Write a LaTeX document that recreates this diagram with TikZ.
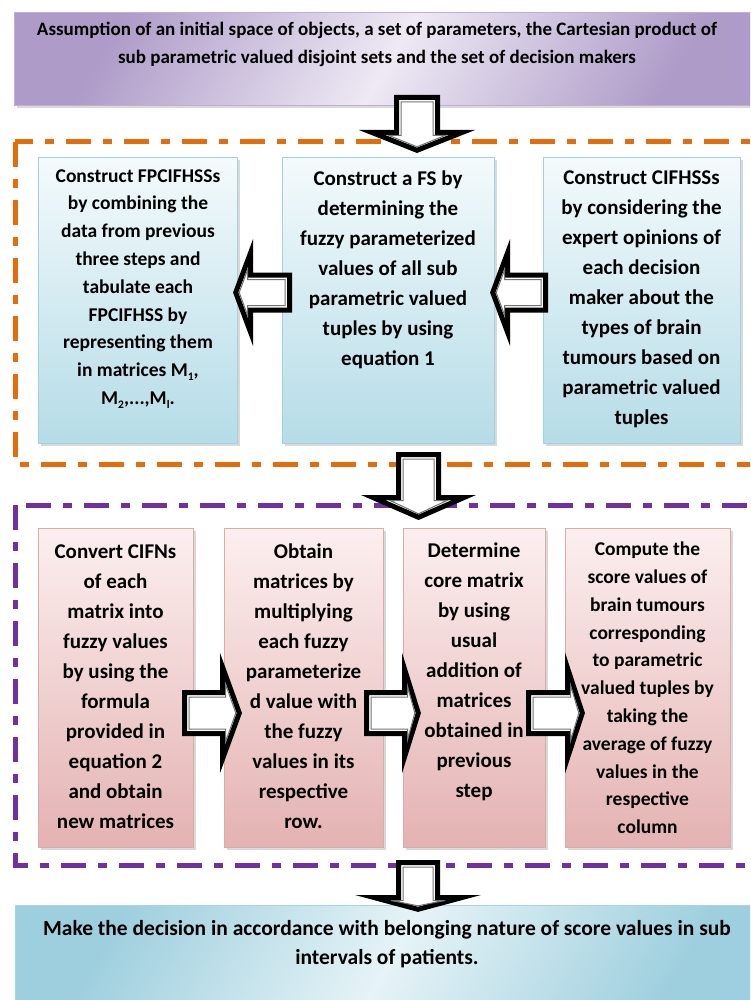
\documentclass[tikz,border=0pt]{standalone}
\usepackage{fontspec}
\setmainfont{Carlito}
\usetikzlibrary{calc,shadows}

\definecolor{blueTop}{HTML}{F4FAFC}
\definecolor{blueBot}{HTML}{B5DCE7}
\definecolor{blueEdge}{HTML}{A3D2DE}
\definecolor{pinkTop}{HTML}{FCEFEF}
\definecolor{pinkBot}{HTML}{E4B2B2}
\definecolor{pinkEdge}{HTML}{DDAAAA}
\definecolor{lilacDark}{HTML}{AE9BC8}
\definecolor{lilacLight}{HTML}{EEE9F4}
\definecolor{skyDark}{HTML}{9ECFDE}
\definecolor{skyLight}{HTML}{E6F3F7}
\definecolor{frameOrange}{HTML}{E46C0A}
\definecolor{framePurple}{HTML}{7030A0}

\newcommand\msub[1]{\raisebox{-0.22em}{\fontsize{11.5}{11.5}\selectfont #1}}

% corner points of a block arrow from #1 to #2 (head length #3, half widths #4 and #5); #6=1 gives the inner outline
\newcommand\fatpts[6]{%
  \pgfmathsetmacro\fad{4.5*#6}%
  \pgfmathsetmacro\fas{#4-4.5*#6}%
  \pgfmathsetmacro\faw{#5-17*#6}%
  \pgfmathsetmacro\fak{#3-3*#6}%
  \pgfmathsetmacro\fap{3.5*#6}%
  \coordinate (fat) at ($(#1)!\fad pt!(#2)$);
  \coordinate (fah) at ($(#2)!\fak pt!(#1)$);
  \coordinate (fa1) at ($(fat)!\fas pt!90:(#2)$);
  \coordinate (fa2) at ($(fah)!\fas pt!90:(#2)$);
  \coordinate (fa3) at ($(fah)!\faw pt!90:(#2)$);
  \coordinate (fa4) at ($(#2)!\fap pt!(#1)$);
  \coordinate (fa5) at ($(fah)!\faw pt!-90:(#2)$);
  \coordinate (fa6) at ($(fah)!\fas pt!-90:(#2)$);
  \coordinate (fa7) at ($(fat)!\fas pt!-90:(#2)$);
}
\newcommand\fatarrow[5]{%
  \fatpts{#1}{#2}{#3}{#4}{#5}{0}
  \filldraw[blockarrow] (fa1) -- (fa2) -- (fa3) -- (fa4) -- (fa5) -- (fa6) -- (fa7) -- cycle;
  \fatpts{#1}{#2}{#3}{#4}{#5}{1}
  \draw[blockinner] (fa1) -- (fa2) -- (fa3) -- (fa4) -- (fa5) -- (fa6) -- (fa7) -- cycle;
}

\begin{document}
\begin{tikzpicture}[
  x=1pt, y=-1pt,
  shadowed/.style={drop shadow={shadow xshift=2pt, shadow yshift=-2.5pt, opacity=0.3}},
  box/.style={shadowed, anchor=north west, inner sep=0pt, line width=1pt},
  topbox/.style={box, draw=lilacDark!80, left color=lilacDark, right color=lilacDark, middle color=lilacLight, shading angle=60},
  endbox/.style={box, draw=skyDark!90, left color=skyDark, right color=skyDark, middle color=skyLight, shading angle=60},
  bluebox/.style={box, draw=blueEdge, top color=blueTop, bottom color=blueBot},
  pinkbox/.style={box, draw=pinkEdge, top color=pinkTop, bottom color=pinkBot},
  frame/.style={line width=5pt, dash pattern=on 25pt off 12pt on 9pt off 12pt},
  txt/.style={align=center, inner sep=0pt, font=\bfseries\fontsize{21}{30}\selectfont},
  txtsmall/.style={txt, font=\bfseries\fontsize{19.5}{27.8}\selectfont},
  txtwide/.style={txt, font=\bfseries\fontsize{19}{28}\selectfont},
  blockarrow/.style={fill=white, draw=black, line width=5pt, line join=miter},
  blockinner/.style={draw=black!55, line width=1pt},
]
  \useasboundingbox (0,0) rectangle (750,1000);
  \clip (0,0) rectangle (750,1000);

  \draw[frame, frameOrange] (15,142) rectangle (775,464);
  \draw[frame, framePurple] (15,505) rectangle (775,865);

  \node[topbox, minimum width=751, minimum height=93] (start) at (14,12) {};

  \node[bluebox, minimum width=199, minimum height=286] (fpc) at (38,157) {};
  \node[bluebox, minimum width=212, minimum height=286] (fsb) at (282,157) {};
  \node[bluebox, minimum width=197, minimum height=286] (cif) at (543,157) {};

  \node[pinkbox, minimum width=155, minimum height=319] (cnv) at (38,528) {};
  \node[pinkbox, minimum width=159, minimum height=319] (obt) at (224,528) {};
  \node[pinkbox, minimum width=142, minimum height=319] (det) at (403,528) {};
  \node[pinkbox, minimum width=165, minimum height=319] (cmp) at (565,528) {};

  \node[endbox, minimum width=755, minimum height=100] (dec) at (15,905) {};

  \node[txtwide] (starttxt) at (377,44) {Assumption of an initial space of objects, a set of parameters, the Cartesian product of\\sub parametric valued disjoint sets and the set of decision makers};
  \node[txtsmall] (fpctxt) at (138,289) {Construct FPCIFHSSs\\by combining the\\data from previous\\three steps and\\tabulate each\\FPCIFHSS by\\representing them\\in matrices M\msub{1},\\M\msub{2},...,M\msub{l}.};
  \node[txt] (fsbtxt) at (388,270) {Construct a FS by\\determining the\\fuzzy parameterized\\values of all sub\\parametric valued\\tuples by using\\equation 1};
  \node[txt] (ciftxt) at (641.5,299.5) {Construct CIFHSSs\\by considering the\\expert opinions of\\each decision\\maker about the\\types of brain\\tumours based on\\parametric valued\\tuples};
  \node[txt] (cnvtxt) at (115.5,686.5) {Convert CIFNs\\of each\\matrix into\\fuzzy values\\by using the\\formula\\provided in\\equation 2\\and obtain\\new matrices};
  \node[txt] (obttxt) at (303.5,686.5) {Obtain\\matrices by\\multiplying\\each fuzzy\\parameterize\\d value with\\the fuzzy\\values in its\\respective\\row.};
  \node[txt] (dettxt) at (474,671.5) {Determine\\core matrix\\by using\\usual\\addition of\\matrices\\obtained in\\previous\\step};
  \node[txtsmall] (cmptxt) at (647.5,688) {Compute the\\score values of\\brain tumours\\corresponding\\to parametric\\valued tuples by\\taking the\\average of fuzzy\\values in the\\respective\\column};
  \node[txtwide, font=\bfseries\fontsize{21.5}{29}\selectfont] (dectxt) at (387,944) {Make the decision in accordance with belonging nature of score values in sub\\intervals of patients.};

  % block arrows: tail, tip, head length, shaft and head half widths
  \coordinate (d1a) at (417,97.5);   \coordinate (d1b) at (417,150.3);
  \coordinate (d2a) at (418.5,454.5); \coordinate (d2b) at (418.5,517.3);
  \coordinate (d3a) at (418,862.5);  \coordinate (d3b) at (418,909.3);
  \coordinate (l1a) at (289.5,292.5); \coordinate (l1b) at (235.7,292.5);
  \coordinate (l2a) at (545.5,292.5); \coordinate (l2b) at (492.7,292.5);
  \coordinate (r1a) at (184.5,713);  \coordinate (r1b) at (239.3,713);
  \coordinate (r2a) at (366.5,713);  \coordinate (r2b) at (418.3,713);
  \coordinate (r3a) at (528.5,713);  \coordinate (r3b) at (582.3,713);

  \fatarrow{d1a}{d1b}{17.8}{20.5}{45}
  \fatarrow{d2a}{d2b}{19.8}{20}{45.5}
  \fatarrow{d3a}{d3b}{11.8}{19.5}{44}
  \fatarrow{l1a}{l1b}{14.8}{17.5}{39.5}
  \fatarrow{l2a}{l2b}{14.8}{17.5}{39.5}
  \fatarrow{r1a}{r1b}{16.8}{20.5}{46}
  \fatarrow{r2a}{r2b}{13.8}{20.5}{44}
  \fatarrow{r3a}{r3b}{14.8}{20.5}{45}
\end{tikzpicture}
\end{document}
